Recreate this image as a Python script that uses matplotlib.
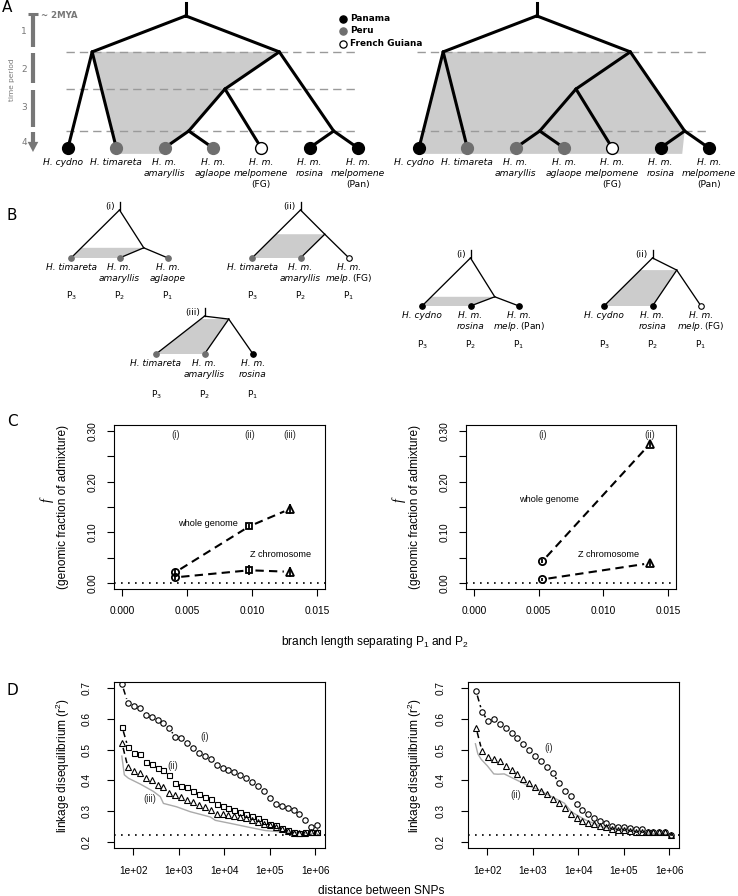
import numpy as np
import matplotlib
matplotlib.use("Agg")
import matplotlib.pyplot as plt
from matplotlib.patches import Polygon
from matplotlib.ticker import NullLocator

plt.rcParams['font.family'] = ['Liberation Sans', 'DejaVu Sans']
plt.rcParams['mathtext.fontset'] = 'dejavusans'
plt.rcParams['mathtext.default'] = 'regular'

# ======================= DATA =======================
# ---- Panel A : phylogeny (tips 0-6, internal nodes 7-12) ----
tipA_line1 = ["H. cydno", "H. timareta", "H. m.", "H. m.", "H. m.", "H. m.", "H. m."]
tipA_line2 = ["", "", "amaryllis", "aglaope", "melpomene", "rosina", "melpomene"]
tipA_line3 = ["", "", "", "", "(FG)", "", "(Pan)"]
tipA_region = ["Panama", "Peru", "Peru", "Peru", "French Guiana", "Panama", "Panama"]
nodeA_children = [(0, 1), (2, 3), (8, 4), (5, 6), (9, 10), (7, 11)]
nodeA_age = [1.53, 3.64, 2.52, 3.64, 1.53, 0.57]          # in time periods
tipA_age = 4.09
period_labels = ["1", "2", "3", "4"]
period_pos = [1.0, 2.0, 3.0, 3.95]
dashA_left = [1.53, 2.52, 3.64]
dashA_right = [1.53, 3.64]
regions = ["Panama", "Peru", "French Guiana"]
region_color = {"Panama": "black", "Peru": "#6f6f6f", "French Guiana": "white"}

# ---- Panel B : the five three-taxon tests ----
B_names = ["(i)", "(ii)", "(iii)", "(i)", "(ii)"]
B_tip_l1 = [["H. timareta", "H. m.", "H. m."],
            ["H. timareta", "H. m.", "H. m."],
            ["H. timareta", "H. m.", "H. m."],
            ["H. cydno", "H. m.", "H. m."],
            ["H. cydno", "H. m.", "H. m."]]
B_tip_l2 = [["", "amaryllis", "aglaope"],
            ["", "amaryllis", "melp.|(FG)"],
            ["", "amaryllis", "rosina"],
            ["", "rosina", "melp.|(Pan)"],
            ["", "rosina", "melp.|(FG)"]]
B_tip_region = [["Peru", "Peru", "Peru"],
                ["Peru", "Peru", "French Guiana"],
                ["Peru", "Peru", "Panama"],
                ["Panama", "Panama", "Panama"],
                ["Panama", "Panama", "French Guiana"]]
B_node_h = [0.21, 0.49, 0.72, 0.19, 0.74]
B_root_h = [0.99, 0.99, 0.78, 0.99, 0.99]
B_P = ["P$_3$", "P$_2$", "P$_1$"]

# ---- Panel C ----
C_labels_L = ["(i)", "(ii)", "(iii)"]
C_branch_L = [0.0041, 0.0098, 0.0129]
C_whole_L = [0.021, 0.112, 0.146]
C_whole_err_L = [0.006, 0.005, 0.010]
C_z_L = [0.011, 0.025, 0.022]
C_z_err_L = [0.006, 0.010, 0.010]
C_labels_R = ["(i)", "(ii)"]
C_branch_R = [0.0053, 0.0136]
C_whole_R = [0.043, 0.275]
C_whole_err_R = [0.004, 0.006]
C_z_R = [0.007, 0.039]
C_z_err_R = [0.003, 0.006]
C_xticks = [0.000, 0.005, 0.010, 0.015]
C_xticklabels = ["0.000", "0.005", "0.010", "0.015"]
C_yticks = [0.00, 0.05, 0.10, 0.15, 0.20, 0.25, 0.30]
C_yticklabels = ["0.00", "", "0.10", "", "0.20", "", "0.30"]

# ---- Panel D ----
D_log10_dist = [1.75, 1.88, 2.01, 2.14, 2.27, 2.40, 2.53, 2.66, 2.79, 2.92, 3.05, 3.18,
                3.31, 3.44, 3.57, 3.70, 3.83, 3.96, 4.09, 4.22, 4.35, 4.48, 4.61, 4.74,
                4.87, 5.00, 5.13, 5.26, 5.39, 5.52, 5.65, 5.78, 5.91, 6.04]
D_L_i = [0.712, 0.651, 0.643, 0.637, 0.613, 0.605, 0.597, 0.588, 0.569, 0.541, 0.539, 0.522,
         0.506, 0.489, 0.479, 0.468, 0.449, 0.440, 0.434, 0.426, 0.416, 0.407, 0.396, 0.383,
         0.364, 0.344, 0.322, 0.317, 0.311, 0.303, 0.292, 0.270, 0.248, 0.254]
D_L_ii = [0.574, 0.508, 0.489, 0.486, 0.460, 0.453, 0.440, 0.435, 0.416, 0.391, 0.382, 0.377,
          0.364, 0.355, 0.347, 0.338, 0.322, 0.316, 0.311, 0.305, 0.298, 0.292, 0.285, 0.278,
          0.267, 0.258, 0.254, 0.246, 0.237, 0.232, 0.229, 0.232, 0.233, 0.232]
D_L_iii = [0.520, 0.442, 0.429, 0.424, 0.407, 0.400, 0.385, 0.380, 0.360, 0.353, 0.345, 0.336,
           0.331, 0.320, 0.314, 0.305, 0.292, 0.289, 0.287, 0.285, 0.281, 0.276, 0.270, 0.265,
           0.259, 0.254, 0.249, 0.243, 0.234, 0.230, 0.230, 0.230, 0.232, 0.232]
D_L_null_log10 = [1.745, 1.80, 1.89, 2.15, 2.44, 2.59, 2.66, 2.95, 3.25, 3.69, 3.80, 4.20,
                  4.52, 4.89, 5.26, 5.62, 6.04]
D_L_null = [0.479, 0.418, 0.407, 0.388, 0.364, 0.347, 0.325, 0.314, 0.298, 0.281, 0.270, 0.258,
            0.248, 0.237, 0.232, 0.230, 0.226]
D_R_i = [0.690, 0.624, 0.593, 0.600, 0.583, 0.569, 0.554, 0.538, 0.519, 0.499, 0.478, 0.462,
         0.444, 0.423, 0.392, 0.366, 0.348, 0.322, 0.303, 0.289, 0.277, 0.268, 0.261, 0.253,
         0.248, 0.247, 0.244, 0.242, 0.242, 0.233, 0.233, 0.233, 0.232, 0.223]
D_R_ii = [0.571, 0.496, 0.477, 0.469, 0.464, 0.447, 0.433, 0.422, 0.405, 0.392, 0.378, 0.367,
          0.356, 0.341, 0.326, 0.311, 0.292, 0.276, 0.267, 0.260, 0.257, 0.252, 0.247, 0.243,
          0.238, 0.238, 0.235, 0.233, 0.232, 0.231, 0.231, 0.231, 0.231, 0.223]
D_R_null_log10 = [1.736, 1.79, 1.86, 2.0, 2.14, 2.23, 2.37, 2.52, 2.81, 3.11, 3.40, 3.69,
                  3.85, 4.16, 4.52, 4.89, 5.26, 5.62, 6.02]
D_R_null = [0.519, 0.486, 0.469, 0.447, 0.421, 0.420, 0.421, 0.410, 0.389, 0.370, 0.348, 0.326,
            0.297, 0.271, 0.249, 0.238, 0.233, 0.227, 0.224]
D_baseline = 0.223
D_xticks = [1e2, 1e3, 1e4, 1e5, 1e6]
D_xticklabels = ["1e+02", "1e+03", "1e+04", "1e+05", "1e+06"]
D_yticks = [0.2, 0.3, 0.4, 0.5, 0.6, 0.7]
D_yticklabels = ["0.2", "0.3", "0.4", "0.5", "0.6", "0.7"]

# ======================= FIGURE =======================
W, H = 738, 896
fig = plt.figure(figsize=(W / 100, H / 100), dpi=100)
TREEFONT = 'DejaVu Sans'
GRAY_TXT = '#777777'
SHADE = '#cccccc'


def add_px_axes(left, top, width, height):
    return fig.add_axes([left / W, 1 - (top + height) / H, width / W, height / H])


def fig_text(x, y, s, **kw):
    fig.text(x / W, 1 - y / H, s, **kw)


# ---------------- Panel A ----------------
nA = len(tipA_line1)
xA = [float(i) for i in range(nA)]
yA = [tipA_age] * nA
for (a, b), age in zip(nodeA_children, nodeA_age):
    xA.append((xA[a] + xA[b]) / 2)
    yA.append(age)
rootA = len(xA) - 1
shade_bottom = 4.25
label_shift = [-0.1, 0, 0, 0, 0, 0, 0]

SXA, SYA = 48.3, 37.5


def tree_axes_A(left, tip0_px):
    ax = add_px_axes(left, 0, 369, 200)
    ax.set_xlim((left - tip0_px) / SXA, (left + 369 - tip0_px) / SXA)
    ax.set_ylim(1 + (200 - 32) / SYA, 1 + (0 - 32) / SYA)
    ax.axis('off')
    return ax


def draw_tree_A(ax, poly, dash_ages):
    ax.add_patch(Polygon(poly, closed=True, facecolor=SHADE, edgecolor='none', zorder=1))
    for age in dash_ages:
        ax.plot([-0.05, 6.03], [age, age], color='#9a9a9a', lw=1.0,
                linestyle=(0, (6, 3.6)), zorder=2)
    for i, (a, b) in enumerate(nodeA_children):
        n = nA + i
        for c in (a, b):
            ax.plot([xA[n], xA[c]], [yA[n], yA[c]], color='black', lw=2.2,
                    solid_capstyle='round', zorder=3)
    ax.plot([xA[rootA], xA[rootA]], [0.23, yA[rootA]], color='black', lw=2.2, zorder=3)
    for i in range(nA):
        fc = region_color[tipA_region[i]]
        ec = 'black' if fc == 'white' else fc
        ax.plot(xA[i], yA[i], 'o', ms=8.5, mfc=fc, mec=ec, mew=1.0, zorder=4)
        lx = xA[i] + label_shift[i]
        ax.text(lx, 4.47, tipA_line1[i], ha='center', va='center', fontsize=6.6,
                style='italic', family=TREEFONT)
        if tipA_line2[i]:
            ax.text(lx, 4.76, tipA_line2[i], ha='center', va='center', fontsize=6.6,
                    style='italic', family=TREEFONT)
        if tipA_line3[i]:
            ax.text(lx, 5.06, tipA_line3[i], ha='center', va='center', fontsize=6.6,
                    family=TREEFONT)


axAL = tree_axes_A(0, 68)
polyL = [(xA[7], yA[7]), (xA[11], yA[11]), (xA[9], yA[9]), (xA[8], yA[8]), (xA[2], yA[2]),
         (xA[2], shade_bottom), (xA[1], shade_bottom), (xA[1], yA[1])]
draw_tree_A(axAL, polyL, dashA_left)

axAR = tree_axes_A(369, 419)
polyR = [(xA[7], yA[7]), (xA[11], yA[11]), (xA[10], yA[10]), (xA[10] - 0.05, shade_bottom),
         (xA[0], shade_bottom), (xA[0], yA[0])]
draw_tree_A(axAR, polyR, dashA_right)

# time-period arrow
ax = axAL
xt = -0.725
for t0, t1 in [(0.52, 1.40), (1.56, 2.36), (2.55, 3.53), (3.67, 3.97)]:
    ax.plot([xt, xt], [t0, t1], color=GRAY_TXT, lw=3.0, solid_capstyle='butt')
ax.plot([xt - 0.11, xt + 0.11], [0.52, 0.52], color=GRAY_TXT, lw=2.2, solid_capstyle='butt')
ax.add_patch(Polygon([(xt - 0.11, 3.93), (xt + 0.11, 3.93), (xt, 4.2)], closed=True,
                     facecolor=GRAY_TXT, edgecolor='none'))
for lab, p in zip(period_labels, period_pos):
    ax.text(-0.91, p, lab, ha='center', va='center', fontsize=6.5, color=GRAY_TXT,
            family=TREEFONT)
ax.text(-1.16, 2.28, "time period", rotation=90, ha='center', va='center', fontsize=5.3,
        color=GRAY_TXT, family=TREEFONT)
ax.text(-0.56, 0.57, "~ 2MYA", ha='left', va='center', fontsize=6.2, color=GRAY_TXT,
        weight='bold', family=TREEFONT)
# legend
for k, reg in enumerate(regions):
    yy = [0.65, 0.97, 1.32][k]
    fc = region_color[reg]
    ax.plot(5.69, yy, 'o', ms=5.2, mfc=fc, mec='black' if fc == 'white' else fc,
            mew=0.9, clip_on=False)
    ax.text(5.84, yy, reg, ha='left', va='center', fontsize=6.4, weight='bold',
            family=TREEFONT, clip_on=False)

# ---------------- Panel B ----------------
SB = 48.5
B_origin_px = [(71, 258), (252, 258), (156, 354), (422, 306), (604, 306)]
B_P_off = [-0.77, -0.77, -0.84, -0.80, -0.80]
for k in range(5):
    ox, oy = B_origin_px[k]
    left, top, w, h = ox - 60, oy - 70, 230, 120
    ax = add_px_axes(left, top, w, h)
    ax.set_xlim((left - ox) / SB, (left + w - ox) / SB)
    ax.set_ylim((oy - (top + h)) / SB, (oy - top) / SB)
    ax.axis('off')
    nh, rh = B_node_h[k], B_root_h[k]
    ax.add_patch(Polygon([(nh / rh, nh), (1.5, nh), (1, 0), (0, 0)], closed=True,
                         facecolor=SHADE, edgecolor='none', zorder=1))
    lk = dict(color='black', lw=0.95, zorder=2)
    ax.plot([1, 0], [rh, 0], **lk)
    ax.plot([1, 1.5], [rh, nh], **lk)
    ax.plot([1.5, 1], [nh, 0], **lk)
    ax.plot([1.5, 2], [nh, 0], **lk)
    ax.plot([1, 1], [rh, rh + 0.16], **lk)
    ax.text(0.9, rh + 0.07, B_names[k], ha='right', va='center', fontsize=6.5,
            family=TREEFONT)
    for j in range(3):
        fc = region_color[B_tip_region[k][j]]
        ax.plot(j, 0, 'o', ms=4.0, mfc=fc, mec='black' if fc == 'white' else fc,
                mew=0.8, zorder=3)
        ax.text(j, -0.19, B_tip_l1[k][j], ha='center', va='center', fontsize=6.5,
                style='italic', family=TREEFONT)
        l2 = B_tip_l2[k][j]
        if l2:
            if '|' in l2:
                it, nm = l2.split('|')
                s = r"$\mathit{" + it + "}$" + nm
                ax.text(j, -0.42, s, ha='center', va='center', fontsize=6.5,
                        family=TREEFONT)
            else:
                ax.text(j, -0.42, l2, ha='center', va='center', fontsize=6.5,
                        style='italic', family=TREEFONT)
        ax.text(j, B_P_off[k], B_P[j], ha='center', va='center', fontsize=6.5,
                family=TREEFONT)

# ---------------- helpers for R-like plots ----------------


def r_style(ax, ypad, xpad):
    for sp in ax.spines.values():
        sp.set_linewidth(0.8)
    ax.tick_params(direction='out', length=5, width=0.8, labelsize=7.3)
    ax.tick_params(axis='y', pad=ypad)
    ax.tick_params(axis='x', pad=xpad)


def rot_ylabels(ax):
    for lab in ax.get_yticklabels():
        lab.set_rotation(90)
        lab.set_va('center')


def gapped_line(ax, xs, ys, gap, **kw):
    pts = ax.transData.transform(np.column_stack([xs, ys]))
    inv = ax.transData.inverted()
    for p, q in zip(pts[:-1], pts[1:]):
        d = q - p
        L = np.hypot(d[0], d[1])
        if L <= 2 * gap + 1:
            continue
        u = d / L
        seg = inv.transform(np.array([p + u * gap, q - u * gap]))
        ax.plot(seg[:, 0], seg[:, 1], **kw)


# ---------------- Panel C ----------------
C_marker_L = ['o', 's', '^']
C_marker_R = ['o', '^']
msize = {'o': 5.2, 's': 4.6, '^': 6.0}


def panel_C(rect, branch, whole, werr, zz, zerr, labels, markers, wg_pos, zc_pos):
    ax = add_px_axes(*rect)
    ax.set_xlim(-0.0006, 0.0156)
    ax.set_ylim(-0.012, 0.312)
    r_style(ax, 6.5, 7)
    ax.set_xticks(C_xticks)
    ax.set_xticklabels(C_xticklabels)
    ax.set_yticks(C_yticks)
    ax.set_yticklabels(C_yticklabels)
    rot_ylabels(ax)
    ax.axhline(0, color='black', lw=1.2, linestyle=(0, (1, 3.2)))
    dash = dict(color='black', lw=1.5, linestyle=(0, (4, 2.5)), dash_capstyle='butt')
    gapped_line(ax, branch, whole, 6, **dash)
    gapped_line(ax, branch, zz, 6, **dash)
    for x, y1, e1, y2, e2, m, lab in zip(branch, whole, werr, zz, zerr, markers, labels):
        ax.vlines([x, x], [y1 - e1, y2 - e2], [y1 + e1, y2 + e2], color='black', lw=1.3)
        for y in (y1, y2):
            ax.plot(x, y, m, ms=msize[m], mfc='none', mec='black', mew=1.3)
        ax.text(x, 0.292, lab, ha='center', va='center', fontsize=7, color='#333333')
    ax.text(wg_pos[0], wg_pos[1], "whole genome", ha='center', va='center', fontsize=6.6)
    ax.text(zc_pos[0], zc_pos[1], "Z chromosome", ha='center', va='center', fontsize=6.6)
    return ax


panel_C((114, 425, 211, 164), C_branch_L, C_whole_L, C_whole_err_L, C_z_L, C_z_err_L,
        C_labels_L, C_marker_L, (0.00662, 0.118), (0.01215, 0.057))
panel_C((466, 425, 210, 164), C_branch_R, C_whole_R, C_whole_err_R, C_z_R, C_z_err_R,
        C_labels_R, C_marker_R, (0.0058, 0.165), (0.01036, 0.057))

for fx, px in ((47, 63), (399, 415)):
    fig_text(fx, 500, "f", rotation=90, ha='center', va='center', fontsize=10,
             style='italic', family='Liberation Serif')
    fig_text(px, 507, "(genomic fraction of admixture)", rotation=90, ha='center',
             va='center', fontsize=8.6)
fig_text(375, 642, "branch length separating P$_1$ and P$_2$", ha='center', va='center',
         fontsize=8.6)

# ---------------- Panel D ----------------
Dms = {'o': 3.9, 's': 3.6, '^': 4.4}


def panel_D(rect, series, markers, null_x, null_y, labels, label_pos):
    ax = add_px_axes(*rect)
    ax.set_xscale('log')
    ax.set_xlim(10 ** 1.573, 10 ** 6.212)
    ax.set_ylim(0.18, 0.72)
    r_style(ax, 11, 8)
    ax.set_xticks(D_xticks)
    ax.set_xticklabels(D_xticklabels)
    ax.xaxis.set_minor_locator(NullLocator())
    ax.set_yticks(D_yticks)
    ax.set_yticklabels(D_yticklabels)
    rot_ylabels(ax)
    ax.axhline(D_baseline, color='black', lw=1.2, linestyle=(0, (1, 3.2)))
    ax.plot(10 ** np.array(null_x), null_y, color='#aaaaaa', lw=1.0)
    xs = 10 ** np.array(D_log10_dist)
    dash = dict(color='black', lw=1.1, linestyle=(0, (4, 2.5)), dash_capstyle='butt')
    for ys, m in zip(series, markers):
        gapped_line(ax, xs, ys, 4.5, **dash)
        ax.plot(xs, ys, m, ms=Dms[m], mfc='none', mec='black', mew=0.8, linestyle='none')
    for lab, (lx, ly) in zip(labels, label_pos):
        ax.text(10 ** lx, ly, lab, ha='center', va='center', fontsize=7, color='#333333')
    return ax


panel_D((114, 682, 211, 166), [D_L_i, D_L_ii, D_L_iii], ['o', 's', '^'],
        D_L_null_log10, D_L_null, ["(i)", "(ii)", "(iii)"],
        [(3.57, 0.542), (2.87, 0.447), (2.35, 0.341)])
panel_D((468, 682, 211, 166), [D_R_i, D_R_ii], ['o', '^'],
        D_R_null_log10, D_R_null, ["(i)", "(ii)"],
        [(3.34, 0.505), (2.63, 0.352)])

for px in (63, 415):
    fig_text(px, 765, "linkage disequilibrium (r$^2$)", rotation=90, ha='center',
             va='center', fontsize=8.6)
fig_text(381, 891, "distance between SNPs", ha='center', va='center', fontsize=8.6)

# ---------------- panel letters ----------------
for lab, (x, y) in zip("ABCD", [(2, 8), (7, 215), (7, 422), (7, 690)]):
    fig_text(x, y, lab, ha='left', va='center', fontsize=11, family=TREEFONT)

fig.savefig("out.png", dpi=100)
